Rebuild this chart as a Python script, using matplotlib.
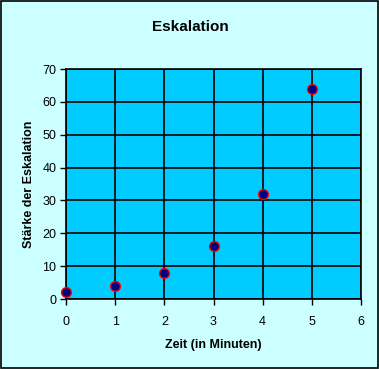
import matplotlib
matplotlib.use("Agg")
import matplotlib.pyplot as plt
from matplotlib.patches import Rectangle

zeit = [0, 1, 2, 3, 4, 5]
staerke = [2, 4, 8, 16, 32, 64]
x_ticks = [0, 1, 2, 3, 4, 5, 6]
y_ticks = [0, 10, 20, 30, 40, 50, 60, 70]

plt.rcParams['font.family'] = ['Liberation Sans', 'DejaVu Sans']

fig = plt.figure(figsize=(3.79, 3.69), dpi=100)
fig.patch.set_facecolor('#ccffff')
fig.patches.append(Rectangle((0.0015, 0.0015), 0.997, 0.997, transform=fig.transFigure,
                             fill=False, edgecolor='black', linewidth=1.2))

ax = fig.add_axes([66/379, 70/369, 295/379, 230/369])
ax.set_facecolor('#00ccff')
ax.set_xlim(0, 6)
ax.set_ylim(0, 70)
ax.set_xticks(x_ticks)
ax.set_yticks(y_ticks)
ax.grid(True, color='black', linewidth=1.2)
ax.set_axisbelow(True)
for s in ax.spines.values():
    s.set_color('black')
    s.set_linewidth(1.2)
ax.tick_params(direction='out', length=4, width=1, labelsize=9, colors='black')
ax.tick_params(axis='x', pad=8)
ax.tick_params(axis='y', pad=3)

ax.scatter(zeit, staerke, s=50, c='#000080', edgecolors='red', linewidths=1, zorder=5, clip_on=False)

ax.set_xlabel('Zeit (in Minuten)', fontsize=9, fontweight='bold', labelpad=8)
ax.set_ylabel('Stärke der Eskalation', fontsize=9, fontweight='bold', labelpad=5)
fig.text(190/379, 1 - 27/369, 'Eskalation', ha='center', va='center', fontsize=11, fontweight='bold')

fig.savefig('out.png', dpi=100, facecolor=fig.get_facecolor())
